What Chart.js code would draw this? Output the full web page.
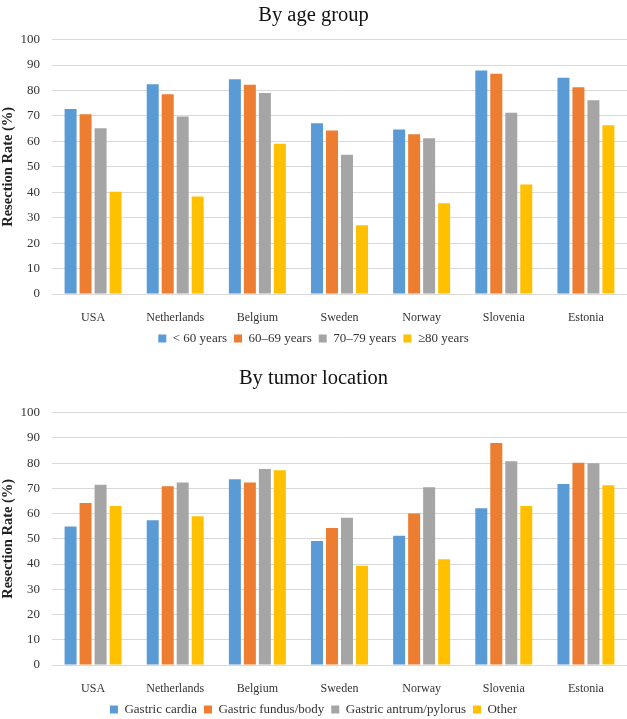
<!DOCTYPE html>
<html>
<head>
<meta charset="utf-8">
<script src="https://cdn.jsdelivr.net/npm/chart.js@4/dist/chart.umd.min.js"></script>
<style>
  html, body { margin: 0; padding: 0; background: #fff; overflow: hidden; }
  .box { position: absolute; left: 0; width: 627px; }
  #top { top: 0; height: 355px; }
  #bottom { top: 362px; height: 364px; }
</style>
</head>
<body>
<div class="box" id="top"><canvas id="ageChart"></canvas></div>
<div class="box" id="bottom"><canvas id="locChart"></canvas></div>
<script>
// Countries on the x axis (both panels)
const countries = ["USA", "Netherlands", "Belgium", "Sweden", "Norway", "Slovenia", "Estonia"]

// Panel 1: resection rate (%) by age group
const ageLabels = ["< 60 years", "60–69 years", "70–79 years", "≥80 years"]
const ageUnder60 = [72.7, 82.4, 84.4, 67.1, 64.7, 87.9, 85.0]
const age60to69  = [70.7, 78.5, 82.3, 64.3, 62.8, 86.6, 81.3]
const age70to79  = [65.2, 69.8, 79.0, 54.7, 61.2, 71.2, 76.2]
const age80plus  = [40.2, 38.3, 59.1, 27.0, 35.7, 43.0, 66.3]

// Panel 2: resection rate (%) by tumor location
const locLabels = ["Gastric cardia", "Gastric fundus/body", "Gastric antrum/pylorus", "Other"]
const locCardia = [54.9, 57.3, 73.6, 49.1, 51.2, 62.1, 71.7]
const locFundus = [64.2, 70.8, 72.3, 54.3, 60.0, 88.0, 80.1]
const locAntrum = [71.4, 72.3, 77.7, 58.3, 70.4, 80.7, 79.9]
const locOther  = [63.0, 58.9, 77.2, 39.3, 41.9, 63.0, 71.2]

const yTicks = [0, 10, 20, 30, 40, 50, 60, 70, 80, 90, 100]

const colors = ["#5b9bd5", "#ed7d31", "#a5a5a5", "#ffc000"]
const serif = "'Liberation Serif', 'Times New Roman', serif"

Chart.defaults.font.family = serif
Chart.defaults.color = "#404040"

function makeChart(id, title, labels, series, titlePad) {
  const ctx = document.getElementById(id).getContext("2d")
  return new Chart(ctx, {
    type: "bar",
    data: {
      labels: countries,
      datasets: series.map((values, i) => ({
        label: labels[i],
        data: values,
        backgroundColor: colors[i],
        borderWidth: 0,
        categoryPercentage: 0.73,
        barPercentage: 0.8
      }))
    },
    options: {
      responsive: true,
      maintainAspectRatio: false,
      animation: false,
      layout: { padding: { left: 0, right: 0, top: 0, bottom: 0 } },
      plugins: {
        title: {
          display: true,
          text: title,
          color: "#111",
          font: { size: 20.5, weight: "normal", family: serif },
          padding: titlePad
        },
        legend: {
          position: "bottom",
          labels: {
            boxWidth: 8,
            boxHeight: 8,
            padding: 7,
            color: "#333",
            font: { size: 13, family: serif }
          }
        },
        tooltip: { enabled: false }
      },
      scales: {
        x: {
          grid: { display: false },
          border: { display: false },
          ticks: { padding: 9, color: "#333", font: { size: 12, family: serif } },
          afterFit: (s) => { s.height = 31 }
        },
        y: {
          min: 0,
          max: 100,
          afterBuildTicks: (s) => { s.ticks = yTicks.map(v => ({ value: v })) },
          grid: { color: "#d9d9d9", lineWidth: 1, drawTicks: false },
          border: { display: false },
          ticks: { padding: 12, color: "#333", font: { size: 13, family: serif } },
          title: {
            display: true,
            text: "Resection Rate (%)",
            color: "#222",
            padding: 0,
            font: { size: 14.5, weight: "bold", family: serif }
          },
          afterFit: (s) => { s.width = 52 }
        }
      }
    }
  })
}

makeChart("ageChart", "By age group", ageLabels,
  [ageUnder60, age60to69, age70to79, age80plus], { top: 3, bottom: 12 })
makeChart("locChart", "By tumor location", locLabels,
  [locCardia, locFundus, locAntrum, locOther], { top: 4, bottom: 22 })
</script>
</body>
</html>
